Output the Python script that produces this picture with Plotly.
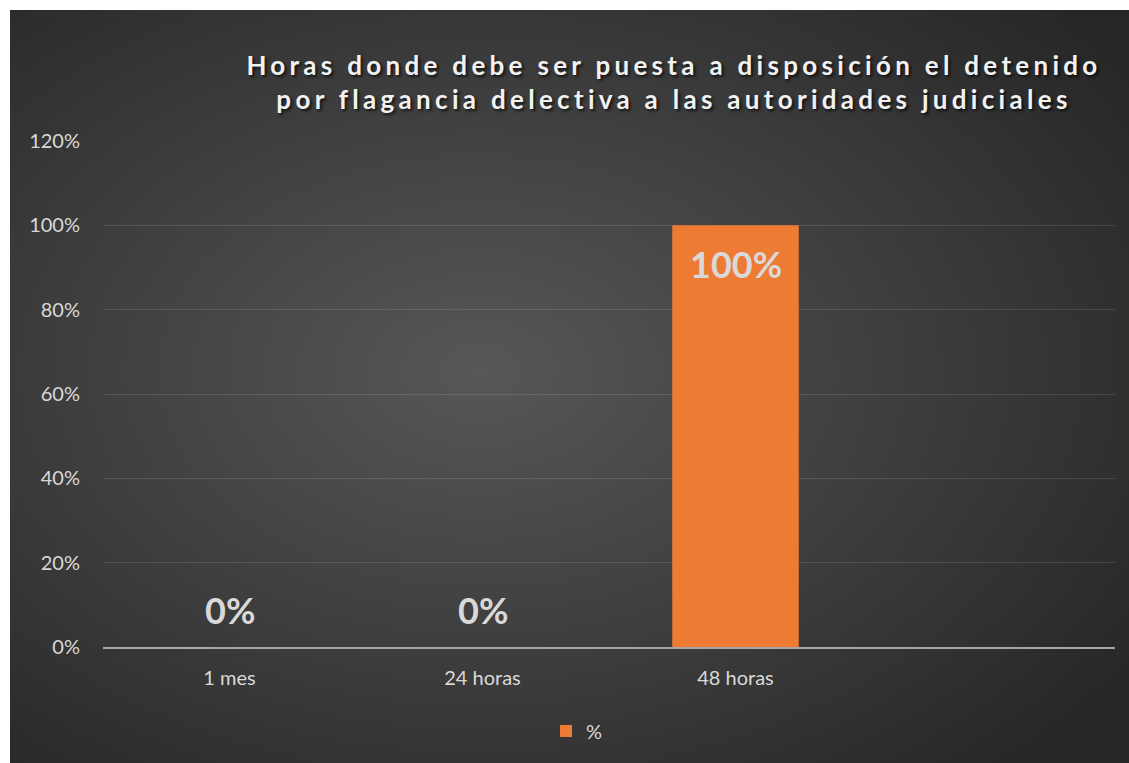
import base64
import plotly.graph_objects as go

# ---- data ----
categories = ["1 mes", "24 horas", "48 horas"]
values = [0.0, 0.0, 1.0]
series_name = "%"
title_lines = [
    "Horas donde debe ser puesta a disposición el detenido",
    "por flagancia delectiva a las autoridades judiciales",
]
y_tick_values = [0, 0.2, 0.4, 0.6, 0.8, 1.0, 1.2]
y_tick_labels = ["0%", "20%", "40%", "60%", "80%", "100%", "120%"]

# ---- layout geometry (pixels) ----
W, H = 1129, 763
PL, PR, PT, PB = 103, 1115, 141, 647
pw, ph = PR - PL, PB - PT

TEXT = "#D9D9D9"
BAR = "#EE7B33"
FONT = "Lato"

# radial gradient background as svg
svg = (
    '<svg xmlns="http://www.w3.org/2000/svg" width="1119" height="753" viewBox="0 0 1119 753" preserveAspectRatio="none">'
    '<defs><radialGradient id="g" cx="0.42" cy="0.48" r="0.72">'
    '<stop offset="0" stop-color="#575757"/><stop offset="1" stop-color="#262626"/>'
    '</radialGradient></defs><rect width="1119" height="753" fill="url(#g)"/></svg>'
)
bg_src = "data:image/svg+xml;base64," + base64.b64encode(svg.encode()).decode()

fig = go.Figure()
fig.add_trace(go.Bar(
    x=categories, y=values, name=series_name,
    marker=dict(color=BAR, line=dict(width=0)),
    width=0.5, showlegend=True,
))

# data labels
for c, v in zip(categories, values):
    fig.add_annotation(
        x=c, y=v, xref="x", yref="y", text="{:.0%}".format(v),
        showarrow=False, yanchor="middle",
        yshift=-39 if v > 0 else 37,
        font=dict(family=FONT, size=36, color=TEXT, weight="bold"),
    )

fig.update_layout(
    width=W, height=H,
    paper_bgcolor="white", plot_bgcolor="rgba(0,0,0,0)",
    margin=dict(l=PL, r=W - PR, t=PT, b=H - PB, pad=0),
    title=dict(
        text="<br>".join(title_lines),
        x=(674 - PL) / pw, xref="paper", xanchor="center",
        y=1 - 75 / H, yref="container", yanchor="top",
        font=dict(family=FONT, size=26, color="#F2F2F2", weight="bold",
                  shadow="2px 2px 3px rgba(0,0,0,0.7)"),
    ),
    xaxis=dict(
        type="category", categoryorder="array", categoryarray=categories,
        range=[-0.5, 3.5], showgrid=False, zeroline=False,
        showline=True, linecolor="#A6A6A6", linewidth=2,
        ticks="", ticklabelstandoff=12,
        tickfont=dict(family=FONT, size=20, color=TEXT),
    ),
    yaxis=dict(
        range=[0, 1.2], tickvals=y_tick_values, ticktext=y_tick_labels,
        showgrid=True, gridcolor="rgba(255,255,255,0.12)", gridwidth=1,
        zeroline=False, showline=False, ticks="", ticklabelstandoff=22,
        tickfont=dict(family=FONT, size=20, color=TEXT),
    ),
    legend=dict(
        orientation="h", x=(577 - PL) / pw, xanchor="center",
        y=(PB - 731) / ph, yanchor="middle",
        font=dict(family=FONT, size=20, color=TEXT),
        bgcolor="rgba(0,0,0,0)",
    ),
    images=[dict(
        source=bg_src, xref="paper", yref="paper",
        x=(10 - PL) / pw, y=(PB - 10) / ph,
        sizex=(W - 10) / pw, sizey=(H - 10) / ph,
        xanchor="left", yanchor="top", sizing="stretch", layer="below",
    )],
    bargap=0.5,
)

post = """
document.body.style.margin = '0';
document.body.style.overflow = 'hidden';
var gd = document.getElementById('{plot_id}');
gd.querySelectorAll('.gtitle').forEach(function(t){ t.style.letterSpacing = '4.3px'; });
"""

fig.write_html("out.html", post_script=post, config={"displayModeBar": False})
